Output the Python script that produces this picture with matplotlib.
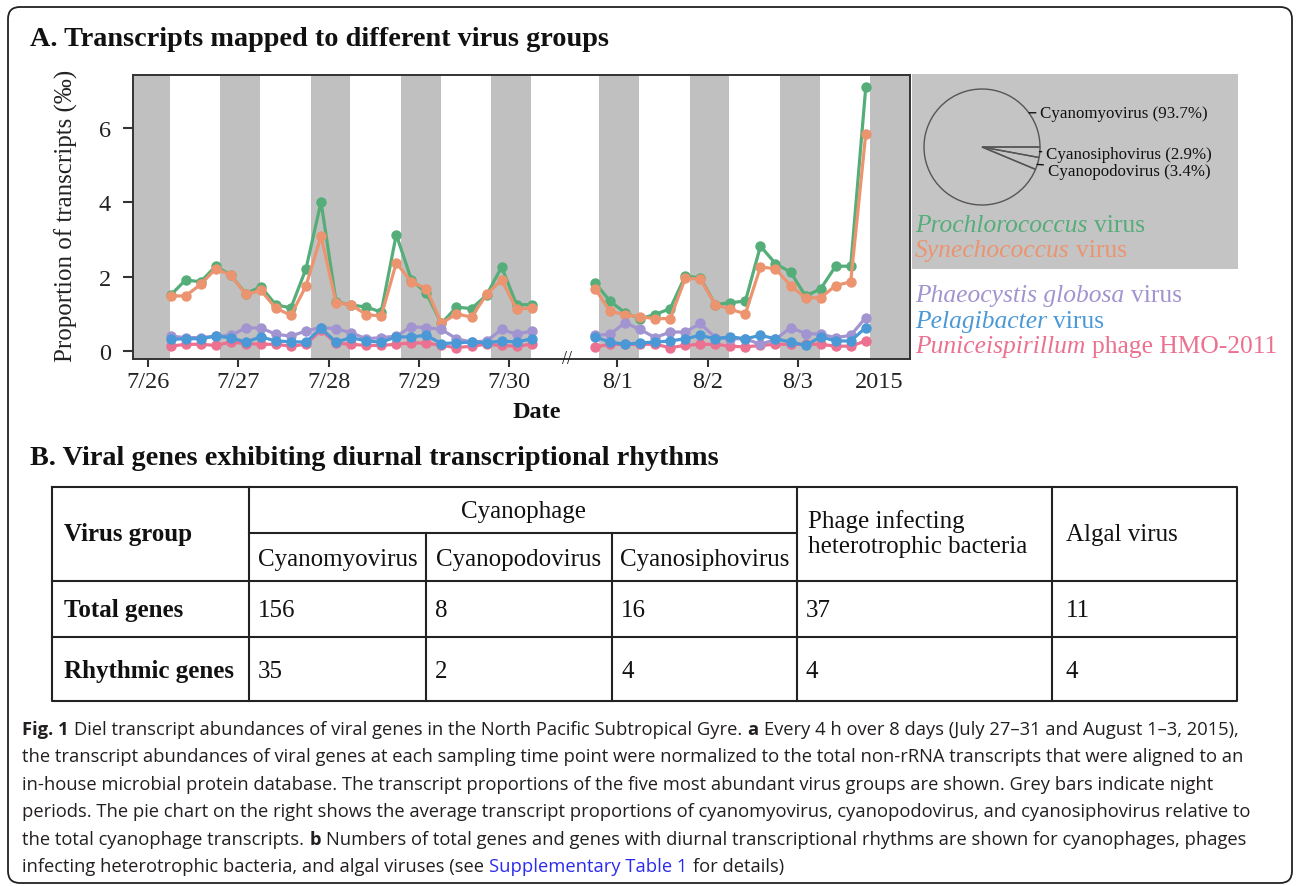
import numpy as np
import matplotlib.pyplot as plt
from matplotlib.patches import FancyBboxPatch, Rectangle

W, H = 1296, 887
SERIF = 'Liberation Serif'
SANS = 'Open Sans'

# ---- panel A data (proportion of transcripts, per mille), every 4 h ----
# first block starts 7/26 06:00 (25 samples), second block 7/31 18:00 (19 samples)
seg1_start = 0.25
seg2_start = 4.95          # axis position (31 Jul squeezed by the break)
step = 1 / 6

pro_1 = [1.50, 1.91, 1.86, 2.28, 2.04, 1.54, 1.73, 1.24, 1.16, 2.21, 4.01, 1.32, 1.24,
         1.18, 1.05, 3.13, 1.92, 1.55, 0.74, 1.18, 1.14, 1.50, 2.26, 1.24, 1.25]
syn_1 = [1.48, 1.48, 1.79, 2.21, 2.04, 1.52, 1.63, 1.15, 0.96, 1.75, 3.09, 1.30, 1.24,
         0.98, 0.94, 2.37, 1.86, 1.68, 0.74, 1.00, 0.91, 1.52, 1.91, 1.12, 1.16]
pha_1 = [0.40, 0.36, 0.36, 0.40, 0.42, 0.62, 0.62, 0.45, 0.40, 0.54, 0.63, 0.60, 0.49,
         0.33, 0.36, 0.40, 0.65, 0.63, 0.58, 0.33, 0.24, 0.27, 0.58, 0.45, 0.54]
pel_1 = [0.31, 0.33, 0.33, 0.40, 0.36, 0.24, 0.38, 0.27, 0.25, 0.24, 0.61, 0.24, 0.36,
         0.27, 0.24, 0.38, 0.38, 0.42, 0.20, 0.22, 0.24, 0.22, 0.27, 0.24, 0.33]
pun_1 = [0.13, 0.18, 0.18, 0.15, 0.24, 0.20, 0.18, 0.18, 0.13, 0.18, 0.56, 0.21, 0.18,
         0.15, 0.15, 0.18, 0.22, 0.21, 0.15, 0.09, 0.13, 0.18, 0.15, 0.13, 0.18]

pro_2 = [1.84, 1.34, 1.03, 0.87, 0.98, 1.14, 2.01, 1.97, 1.25, 1.30, 1.34, 2.82, 2.35,
         2.12, 1.48, 1.67, 2.28, 2.28, 7.09]
syn_2 = [1.68, 1.07, 0.98, 0.92, 0.87, 0.87, 1.95, 1.94, 1.25, 1.12, 1.00, 2.26, 2.21,
         1.76, 1.43, 1.43, 1.76, 1.86, 5.84]
pha_2 = [0.42, 0.45, 0.76, 0.58, 0.36, 0.51, 0.51, 0.74, 0.36, 0.33, 0.33, 0.18, 0.31,
         0.63, 0.47, 0.45, 0.36, 0.42, 0.90]
pel_2 = [0.38, 0.24, 0.18, 0.22, 0.24, 0.27, 0.33, 0.42, 0.33, 0.38, 0.33, 0.42, 0.33,
         0.24, 0.15, 0.38, 0.27, 0.27, 0.63]
pun_2 = [0.11, 0.18, 0.18, 0.18, 0.18, 0.09, 0.15, 0.18, 0.18, 0.13, 0.11, 0.15, 0.18,
         0.18, 0.18, 0.18, 0.13, 0.13, 0.27]

day_labels = ['7/26', '7/27', '7/28', '7/29', '7/30', '8/1', '8/2', '8/3']
day_pos = [0, 1, 2, 3, 4, 5.2, 6.2, 7.2]
night_centres = [0, 1, 2, 3, 4, 5.2, 6.2, 7.2, 8.2]

pie_labels = ['Cyanosiphovirus', 'Cyanopodovirus', 'Cyanomyovirus']
pie_share = [2.9, 3.4, 93.7]

# (italic name, plain rest, colour, block 1, block 2) in drawing order
series = [
    ('Prochlorococcus', 'virus', '#55ad79', pro_1, pro_2),
    ('Synechococcus', 'virus', '#ec9470', syn_1, syn_2),
    ('Puniceispirillum', 'phage HMO-2011', '#ec7090', pun_1, pun_2),
    ('Phaeocystis globosa', 'virus', '#a294d0', pha_1, pha_2),
    ('Pelagibacter', 'virus', '#4a98d6', pel_1, pel_2),
]
legend_order = [0, 1, 3, 4, 2]

# ---- panel B table ----
row_names = ['Total genes', 'Rhythmic genes']
total_genes = ['156', '8', '16', '37', '11']
rhythmic_genes = ['35', '2', '4', '4', '4']

INK = '#231f20'
caption = [
    [('Fig. 1', 'bold', INK),
     ('Diel transcript abundances of viral genes in the North Pacific Subtropical Gyre.', 'normal', INK),
     ('a', 'bold', INK),
     ('Every 4 h over 8 days (July 27\u201331 and August 1\u20133, 2015),', 'normal', INK)],
    [('the transcript abundances of viral genes at each sampling time point were normalized to the total non-rRNA transcripts that were aligned to an', 'normal', INK)],
    [('in-house microbial protein database. The transcript proportions of the five most abundant virus groups are shown. Grey bars indicate night', 'normal', INK)],
    [('periods. The pie chart on the right shows the average transcript proportions of cyanomyovirus, cyanopodovirus, and cyanosiphovirus relative to', 'normal', INK)],
    [('the total cyanophage transcripts.', 'normal', INK),
     ('b', 'bold', INK),
     ('Numbers of total genes and genes with diurnal transcriptional rhythms are shown for cyanophages, phages', 'normal', INK)],
    [('infecting heterotrophic bacteria, and algal viruses (see', 'normal', INK),
     ('Supplementary Table 1', 'normal', '#2b2bee'),
     ('for details)', 'normal', INK)],
]

fig = plt.figure(figsize=(W / 100, H / 100), dpi=100)

# background axes in pixel units for frame, titles, table, caption
bg = fig.add_axes([0, 0, 1, 1])
bg.set_xlim(0, W)
bg.set_ylim(H, 0)
bg.axis('off')


def pax(l, t, r, b):
    return [l / W, 1 - b / H, (r - l) / W, (b - t) / H]


def rich(ax, x, y, parts, size, family, gap):
    # draw text pieces one after another on a common baseline
    s, w, c = parts[0]
    t = ax.text(x, y, s, fontsize=size, family=family, weight=w, color=c, va='baseline')
    for s, w, c in parts[1:]:
        t = ax.annotate(s, xy=(1, 0), xycoords=t, xytext=(gap, 0), textcoords='offset points',
                        fontsize=size, family=family, weight=w, color=c, va='bottom')
    return t


frame = FancyBboxPatch((8, 8), 1284, 876, boxstyle='round,pad=0,rounding_size=12',
                       fc='none', ec='#222222', lw=1.3)
bg.add_patch(frame)

bg.text(30, 40, 'A. Transcripts mapped to different virus groups', fontsize=20.3, family=SERIF,
        weight='bold', va='center', color='#111111')
bg.text(30, 459, 'B. Viral genes exhibiting diurnal transcriptional rhythms', fontsize=20.3,
        family=SERIF, weight='bold', va='center', color='#111111')

# ---- line chart ----
ax = fig.add_axes(pax(133, 76, 910, 360))
x1 = seg1_start + step * np.arange(len(pro_1))
x2 = seg2_start + step * np.arange(len(pro_2))
for c in night_centres:
    ax.axvspan(c - 0.2, c + 0.24, color='#c0c0c0', lw=0, zorder=0)
for name, rest, col, v1, v2 in series:
    for xx, vv in ((x1, v1), (x2, v2)):
        ax.plot(xx, vv, '-o', color=col, lw=2.3, ms=7.5, mew=0, zorder=3)

ax.set_xlim(-0.166, 8.44)
ax.set_ylim(-0.215, 7.42)
ax.set_xticks(day_pos, day_labels)
ax.set_xticks([8.1], ['2015'], minor=True)
ax.set_yticks([0, 2, 4, 6])
for sp in ax.spines.values():
    sp.set_color('#333333')
    sp.set_linewidth(1.4)
ax.tick_params(axis='x', which='major', length=6, width=1.5, pad=3, color='#333333')
ax.tick_params(axis='x', which='minor', length=0, pad=9)
ax.tick_params(axis='y', length=7, width=1.5, pad=9, color='#333333')
for lab in ax.get_xticklabels(which='both') + ax.get_yticklabels():
    lab.set_family(SERIF)
    lab.set_fontsize(17.5)
    lab.set_color('#222222')
ax.text(4.64, 0, '//', transform=ax.get_xaxis_transform(), ha='center', va='center',
        fontsize=13, family=SERIF, color='#222222', clip_on=False)

bg.text(66, 216, 'Proportion of transcripts (\u2030)', rotation=90, ha='center', va='center',
        fontsize=18, family=SERIF, color='#222222')
bg.text(537, 413, 'Date', ha='center', va='center', fontsize=17.5, family=SERIF,
        weight='bold', color='#111111')

# ---- pie + legend ----
bg.add_patch(Rectangle((912, 75), 326, 195, fc='#c4c4c4', ec='none'))
pax_ = fig.add_axes(pax(924, 90, 1040, 206))
pax_.pie(pie_share, startangle=0, counterclock=False,
         wedgeprops=dict(fc='none', ec='#555555', lw=1))
pax_.set_xlim(-1, 1)
pax_.set_ylim(-1, 1)
pie_xy = [(0.99, -0.08), (0.95, -0.3), (0.81, 0.59)]
pie_txt = [(1.1, -0.12), (1.13, -0.41), (1.0, 0.59)]
for lab, share, xy, xt in zip(pie_labels, pie_share, pie_xy, pie_txt):
    pax_.annotate(f'{lab} ({share}%)', xy=xy, xytext=xt, fontsize=12.2, family=SERIF,
                  va='center', ha='left', color='#111111', annotation_clip=False,
                  arrowprops=dict(arrowstyle='-', lw=1, color='#111111', shrinkA=1, shrinkB=0))

leg_y = [232, 257, 302, 328, 353]
for yy, i in zip(leg_y, legend_order):
    name, rest, col, _, _ = series[i]
    t = bg.text(915, yy, name, fontsize=18.4, family=SERIF, style='italic', color=col, va='baseline')
    bg.annotate(rest, xy=(1, 0), xycoords=t, xytext=(4.6, 0), textcoords='offset points',
                fontsize=18.4, family=SERIF, color=col, va='bottom')

# ---- table ----
cols = [52, 249, 426, 612, 797, 1052, 1237]
rows = [488, 534, 582, 638, 702]
lk = dict(color='#222222', lw=1.5)
bg.plot([cols[0], cols[-1], cols[-1], cols[0], cols[0]],
        [rows[0], rows[0], rows[-1], rows[-1], rows[0]], **lk)
for r in rows[2:4]:
    bg.plot([cols[0], cols[-1]], [r, r], **lk)
bg.plot([cols[1], cols[4]], [rows[1], rows[1]], **lk)
for c in (cols[1], cols[4], cols[5]):
    bg.plot([c, c], [rows[0], rows[-1]], **lk)
for c in (cols[2], cols[3]):
    bg.plot([c, c], [rows[1], rows[-1]], **lk)

tk = dict(fontsize=18, family=SERIF, color='#111111', va='center')
bg.text(64, 535, 'Virus group', weight='bold', **tk)
bg.text((cols[1] + cols[4]) / 2, 512, 'Cyanophage', ha='center', **tk)
for i, lab in enumerate(['Cyanomyovirus', 'Cyanopodovirus', 'Cyanosiphovirus']):
    bg.text((cols[1 + i] + cols[2 + i]) / 2, 560, lab, ha='center', **tk)
bg.text(808, 534, 'Phage infecting\nheterotrophic bacteria', linespacing=1.22, **tk)
bg.text(1066, 535, 'Algal virus', **tk)
row_y = [611, 672]
for yy, name, vals in zip(row_y, row_names, [total_genes, rhythmic_genes]):
    bg.text(64, yy, name, weight='bold', **tk)
    for c, v in zip(cols[1:6], vals):
        bg.text(c + (14 if c == cols[5] else 9), yy, v, **tk)

# ---- caption ----
for i, parts in enumerate(caption):
    rich(bg, 22, 735 + 27.5 * i, parts, 13.2, SANS, 3.9)

fig.savefig('out.png', dpi=100)
